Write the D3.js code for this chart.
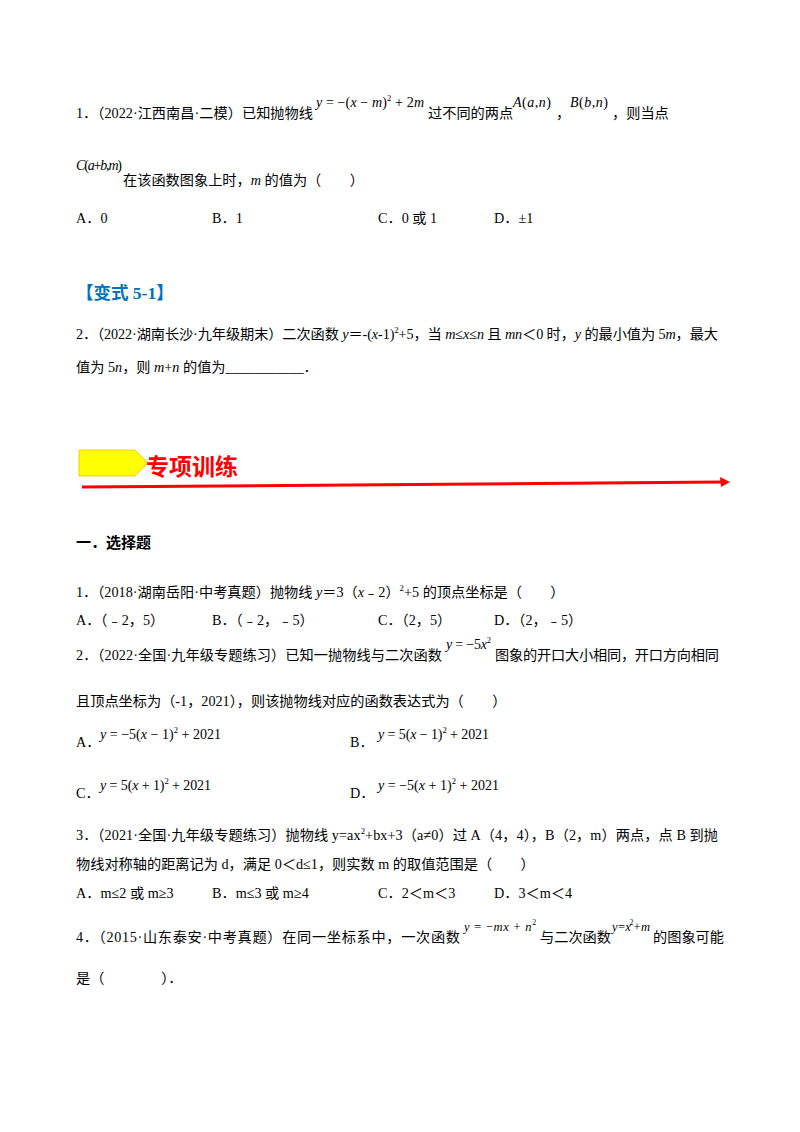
<!DOCTYPE html>
<html lang="en">
<head>
<meta charset="UTF-8">
<title>二次函数 专项训练</title>
<script src="https://d3js.org/d3.v7.min.js"></script>
<style>
  body { margin: 0; background: #fff; }
  svg text { font-family: "Liberation Serif", "Noto Sans CJK SC", serif; fill: #000; }
</style>
</head>
<body>
<div id="page"></div>
<script>
// text lines: [x, baseline y, markup, font size, width (optional)]
// markup: *...* italic, ^...^ superscript
const question1 = [
  [76, 118, "1．（2022·江西南昌·二模）已知抛物线", 14.2, 237],
  [316, 107, "*y* = −(*x* − *m*)^2^ + 2*m*", 14, 108],
  [428, 118, "过不同的两点", 14.2],
  [513, 107, "*A*(*a*,*n*)", 14, 38],
  [556, 118, "，", 14.2],
  [570, 107, "*B*(*b*,*n*)", 14, 38],
  [612, 118, "，则当点", 14.2],
  [76, 170, "*C*(*a*+*b*,*m*)", 14, 46],
  [123, 185, "在该函数图象上时，*m* 的值为（　　）", 14.2],
  [76, 223, "A．0", 14.2], [212, 223, "B．1", 14.2], [378, 223, "C．0 或 1", 14.2], [494, 223, "D．±1", 14.2]
];
const variant = [
  [76, 339, "2．（2022·湖南长沙·九年级期末）二次函数 *y*＝-(*x*-1)^2^+5，当 *m*≤*x*≤*n* 且 *mn*＜0 时，*y* 的最小值为 5*m*，最大", 14.2, 642],
  [76, 372, "值为 5*n*，则 *m*+*n* 的值为___________．", 14.2]
];
const training = [
  [76, 597, "1．（2018·湖南岳阳·中考真题）抛物线 *y*＝3（*x*﹣2）^2^+5 的顶点坐标是（　　）", 14.2],
  [76, 625, "A．（﹣2，5）", 14.2], [212, 625, "B．（﹣2，﹣5）", 14.2], [378, 625, "C．（2，5）", 14.2], [494, 625, "D．（2，﹣5）", 14.2],
  [76, 660, "2．（2022·全国·九年级专题练习）已知一抛物线与二次函数", 14.2, 366],
  [446, 649, "*y* = −5*x*^2^", 14, 45],
  [495, 660, "图象的开口大小相同，开口方向相同", 14.2, 224],
  [76, 706, "且顶点坐标为（-1，2021），则该抛物线对应的函数表达式为（　　）", 14.2],
  [76, 747, "A．", 14.2], [100, 739, "*y* = −5(*x* − 1)^2^ + 2021", 14, 121],
  [350, 747, "B．", 14.2], [378, 739, "*y* = 5(*x* − 1)^2^ + 2021", 14, 111],
  [76, 798, "C．", 14.2], [100, 790, "*y* = 5(*x* + 1)^2^ + 2021", 14, 111],
  [350, 798, "D．", 14.2], [378, 790, "*y* = −5(*x* + 1)^2^ + 2021", 14, 121],
  [76, 840, "3．（2021·全国·九年级专题练习）抛物线 y=ax^2^+bx+3（a≠0）过 A（4，4），B（2，m）两点，点 B 到抛", 14.2, 642],
  [76, 869, "物线对称轴的距离记为 d，满足 0＜d≤1，则实数 m 的取值范围是（　　）", 14.2],
  [76, 898, "A．m≤2 或 m≥3", 14.2], [212, 898, "B．m≤3 或 m≥4", 14.2], [378, 898, "C．2＜m＜3", 14.2], [494, 898, "D．3＜m＜4", 14.2],
  [76, 942, "4．（2015·山东泰安·中考真题）在同一坐标系中，一次函数", 14.2, 384],
  [464, 931, "*y* = −*mx* + *n*^2^", 12.5, 72],
  [540, 942, "与二次函数", 14.2],
  [612, 931, "*y* = *x*^2^ + *m*", 12.5, 38],
  [653, 942, "的图象可能", 14.2],
  [76, 983, "是（　　　　）．", 14.2]
];
const headings = [
  [76, 299, "【变式 5-1】", 17.5, "#0070c0"],
  [76, 548, "一．选择题", 15, "#000"]
];
const bannerTitle = "专项训练";

const svg = d3.select("#page").append("svg").attr("width", 800).attr("height", 1132);

function parse(markup) {
  const parts = [];
  let italic = false, sup = false, buf = "";
  for (const ch of markup) {
    if (ch === "*" || ch === "^") {
      if (buf) parts.push({ t: buf, italic, sup });
      buf = "";
      if (ch === "*") italic = !italic; else sup = !sup;
    } else buf += ch;
  }
  if (buf) parts.push({ t: buf, italic, sup });
  return parts;
}

function drawLines(lines) {
  lines.forEach(([x, y, markup, size, width]) => {
    const t = svg.append("text").attr("x", x).attr("y", y).attr("font-size", size);
    if (width) t.attr("textLength", width).attr("lengthAdjust", "spacing");
    let raised = false;
    parse(markup).forEach(p => {
      const s = t.append("tspan").text(p.t);
      if (p.italic) s.attr("font-style", "italic");
      if (p.sup) {
        s.attr("font-size", size * 0.62);
        if (!raised) s.attr("dy", -size * 0.45);
        raised = true;
      } else if (raised) {
        s.attr("dy", size * 0.45);
        raised = false;
      }
    });
  });
}

drawLines(question1);
drawLines(variant);
drawLines(training);

headings.forEach(([x, y, txt, size, color]) => {
  svg.append("text").attr("x", x).attr("y", y).attr("font-size", size)
    .attr("font-weight", "bold").style("fill", color).text(txt);
});

// banner
const banner = d3.path();
banner.moveTo(79, 450); banner.lineTo(135, 450); banner.lineTo(148, 463);
banner.lineTo(135, 476); banner.lineTo(79, 476); banner.closePath();
svg.append("path").attr("d", banner.toString()).attr("fill", "#ffff00").attr("stroke", "#f0c000").attr("stroke-width", 0.8);
svg.append("text").attr("x", 146).attr("y", 475).attr("font-size", 23).attr("font-weight", "bold")
  .style("font-family", "'Noto Sans CJK SC'").style("fill", "#ff0000").text(bannerTitle);
svg.append("line").attr("x1", 82).attr("y1", 487).attr("x2", 722).attr("y2", 482)
  .attr("stroke", "#ff0000").attr("stroke-width", 3);
svg.append("path").attr("d", "M730,482 L720,477 L721,487 Z").attr("fill", "#ff0000");
</script>
</body>
</html>
